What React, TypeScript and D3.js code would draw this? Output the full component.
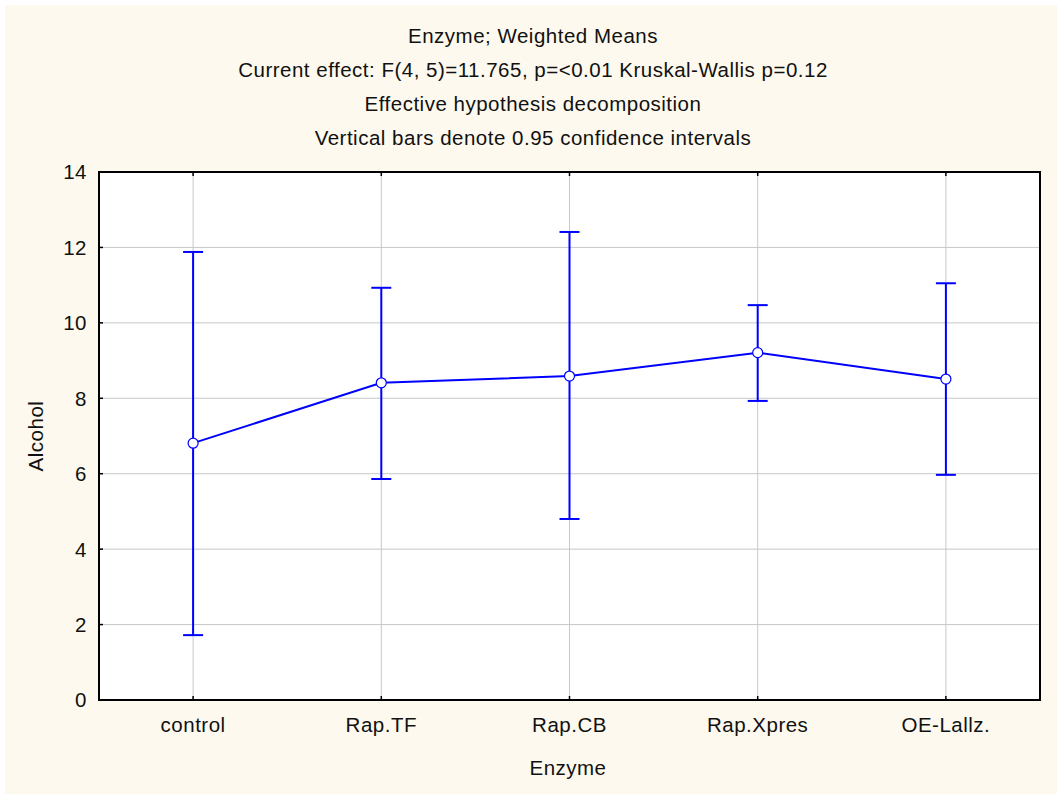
import React from "react";
import * as d3 from "d3";

const categories = ["control", "Rap.TF", "Rap.CB", "Rap.Xpres", "OE-Lallz."];
const means = [6.81, 8.41, 8.59, 9.21, 8.51];
const lowerCI = [1.72, 5.86, 4.8, 7.93, 5.97];
const upperCI = [11.88, 10.93, 12.41, 10.47, 11.05];
const yTicks = [0, 2, 4, 6, 8, 10, 12, 14];
const titleLines = [
  "Enzyme; Weighted Means",
  "Current effect: F(4, 5)=11.765, p=<0.01 Kruskal-Wallis p=0.12",
  "Effective hypothesis decomposition",
  "Vertical bars denote 0.95 confidence intervals",
];

const W = 1057;
const H = 794;
const plot = { left: 99, top: 172, right: 1040, bottom: 700 };
const FONT = "'Liberation Sans', Arial, sans-serif";
const FS = 20.5;
const LS = 0.5;
const BLUE = "#0000ff";

export default function App() {
  const x = d3
    .scaleBand<string>()
    .domain(categories)
    .range([plot.left, plot.right])
    .padding(0);
  const y = d3.scaleLinear().domain([0, 14]).range([plot.bottom, plot.top]);
  const cx = (c: string) => (x(c) ?? 0) + x.bandwidth() / 2;

  const line = d3
    .line<number>()
    .x((_, i) => cx(categories[i]))
    .y((d) => y(d));

  const capHalf = 10;

  return (
    <svg
      width={W}
      height={H}
      style={{ position: "absolute", left: 0, top: 0, display: "block" }}
      fontFamily={FONT}
      letterSpacing={LS}
    >
      <rect x={0} y={0} width={W} height={H} fill="#ffffff" />
      <rect x={5} y={5} width={W - 5} height={H - 5} fill="#fdf9ee" />

      {titleLines.map((t, i) => (
        <text
          key={t}
          x={533}
          y={43 + i * 34}
          textAnchor="middle"
          fontSize={FS}
          fill="#111"
        >
          {t}
        </text>
      ))}

      <rect
        x={plot.left}
        y={plot.top}
        width={plot.right - plot.left}
        height={plot.bottom - plot.top}
        fill="#ffffff"
      />

      {/* grid */}
      {yTicks.slice(1, -1).map((t) => (
        <line
          key={"gy" + t}
          x1={plot.left}
          x2={plot.right}
          y1={y(t)}
          y2={y(t)}
          stroke="#c8c8c8"
          strokeWidth={1}
        />
      ))}
      {categories.map((c) => (
        <line
          key={"gx" + c}
          x1={cx(c)}
          x2={cx(c)}
          y1={plot.top}
          y2={plot.bottom}
          stroke="#c8c8c8"
          strokeWidth={1}
        />
      ))}

      {/* ticks */}
      {yTicks.map((t) => (
        <line
          key={"ty" + t}
          x1={plot.left}
          x2={plot.left + 4}
          y1={y(t)}
          y2={y(t)}
          stroke="#000"
          strokeWidth={1.5}
        />
      ))}
      {categories.map((c) => (
        <g key={"tx" + c}>
          <line x1={cx(c)} x2={cx(c)} y1={plot.top} y2={plot.top + 4} stroke="#000" strokeWidth={1.5} />
          <line x1={cx(c)} x2={cx(c)} y1={plot.bottom} y2={plot.bottom - 4} stroke="#000" strokeWidth={1.5} />
        </g>
      ))}

      {/* frame */}
      <rect
        x={plot.left}
        y={plot.top}
        width={plot.right - plot.left}
        height={plot.bottom - plot.top}
        fill="none"
        stroke="#000"
        strokeWidth={2}
      />

      {/* y tick labels */}
      {yTicks.map((t) => (
        <text
          key={"ly" + t}
          x={plot.left - 12}
          y={y(t)}
          dy="0.36em"
          textAnchor="end"
          fontSize={FS}
          fill="#111"
        >
          {t}
        </text>
      ))}
      {/* x tick labels */}
      {categories.map((c) => (
        <text
          key={"lx" + c}
          x={cx(c)}
          y={plot.bottom + 32}
          textAnchor="middle"
          fontSize={FS}
          fill="#111"
        >
          {c}
        </text>
      ))}

      <text x={568} y={775} textAnchor="middle" fontSize={FS} fill="#111">
        Enzyme
      </text>
      <text
        transform={`translate(43, ${(plot.top + plot.bottom) / 2}) rotate(-90)`}
        textAnchor="middle"
        fontSize={FS}
        fill="#111"
      >
        Alcohol
      </text>

      {/* error bars */}
      {categories.map((c, i) => (
        <g key={"eb" + c} stroke={BLUE} strokeWidth={2}>
          <line x1={cx(c)} x2={cx(c)} y1={y(lowerCI[i])} y2={y(upperCI[i])} />
          <line x1={cx(c) - capHalf} x2={cx(c) + capHalf} y1={y(upperCI[i])} y2={y(upperCI[i])} />
          <line x1={cx(c) - capHalf} x2={cx(c) + capHalf} y1={y(lowerCI[i])} y2={y(lowerCI[i])} />
        </g>
      ))}

      <path d={line(means) ?? ""} fill="none" stroke={BLUE} strokeWidth={2} />

      {categories.map((c, i) => (
        <circle
          key={"pt" + c}
          cx={cx(c)}
          cy={y(means[i])}
          r={5}
          fill="#ffffff"
          stroke={BLUE}
          strokeWidth={1.2}
        />
      ))}
    </svg>
  );
}
